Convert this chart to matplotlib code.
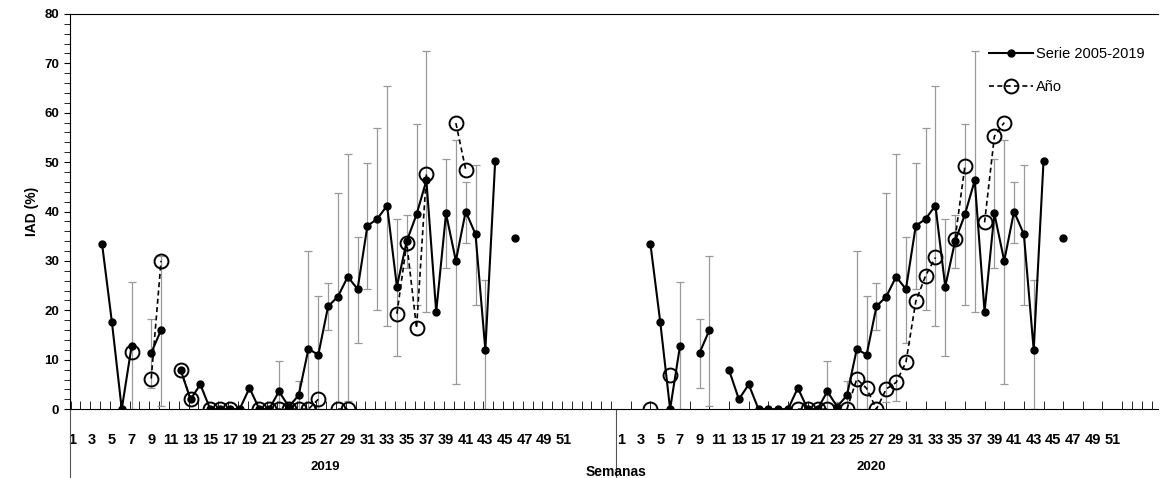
import numpy as np
import matplotlib
matplotlib.use("Agg")
import matplotlib.pyplot as plt
from matplotlib.lines import Line2D

plt.rcParams['font.family'] = ['Liberation Sans', 'DejaVu Sans']
N = np.nan
weeks = list(range(1, 53))
years = ["2019", "2020"]
serie = [N, N, N, 33.4, 17.6, 0, 12.7, N, 11.4, 16, N, 7.9, 2, 5, 0, 0, 0, 0, 4.3, 0,
         0, 3.6, 0.5, 2.8, 12.2, 11, 20.8, 22.8, 26.8, 24.3, 37.1, 38.5, 41.2, 24.8, 34, 39.4,
         46.3, 19.7, 39.6, 30, 40, 35.4, 12, 50.2, N, 34.6] + [N] * 6
err_up = {7: 25.7, 9: 18.3, 10: 30.9, 22: 9.8, 23: 1.5, 24: 5.7, 25: 32, 26: 23, 27: 25.5,
          28: 43.7, 29: 51.6, 30: 34.8, 31: 49.8, 32: 57, 33: 65.4, 34: 38.5, 35: 39.2,
          36: 57.8, 37: 72.5, 39: 50.7, 40: 54.5, 41: 46, 42: 49.5, 43: 26.2}
err_lo = {7: 0, 9: 4.3, 10: 0.7, 22: 0, 23: 0, 24: 0, 25: 0, 26: 0, 27: 16.1,
          28: 1.5, 29: 1.7, 30: 13.4, 31: 24.3, 32: 20, 33: 16.9, 34: 10.8, 35: 28.5,
          36: 21.1, 37: 19.7, 39: 28.6, 40: 5, 41: 33.7, 42: 21.1, 43: 0}
ano2019 = {7: 11.6, 9: 6.2, 10: 30, 12: 7.9, 13: 2.1, 15: 0, 16: 0, 17: 0, 20: 0, 21: 0,
           22: 0, 23: 0, 24: 0, 25: 0, 26: 2, 28: 0, 29: 0, 34: 19.3, 35: 33.6, 36: 16.4,
           37: 47.5, 40: 57.9, 41: 48.5}
ano2020 = {4: 0, 6: 6.9, 19: 0, 20: 0, 21: 0, 22: 0, 24: 0, 25: 6.1, 26: 4.2, 27: 0,
           28: 4.1, 29: 5.4, 30: 9.5, 31: 21.8, 32: 27, 33: 30.7, 35: 34.5, 36: 49.2,
           38: 37.8, 39: 55.2, 40: 58}

OFF = 55.8
fig = plt.figure(figsize=(11.61, 4.78), dpi=100)
ax = fig.add_axes([0.060, 0.144, 0.937, 0.827])
B = 'bold'

for b, ano in enumerate([ano2019, ano2020]):
    x = np.array(weeks) + OFF * b
    s = np.array(serie, dtype=float)
    ax.plot(x, s, color='black', lw=1.5, marker='o', ms=5, zorder=3)
    for w in err_up:
        ax.errorbar(w + OFF * b, s[w - 1], yerr=[[s[w - 1] - err_lo[w]], [err_up[w] - s[w - 1]]],
                    color='#999999', lw=0.9, capsize=3, capthick=0.9, zorder=2)
    a = np.array([ano.get(w, N) for w in weeks], dtype=float)
    ax.plot(x, a, color='black', lw=1.2, ls=(0, (3, 2)), marker='o', ms=10,
            mfc='none', mew=1.4, zorder=4)

ax.set_xlim(0.7, 111.4)
ax.set_ylim(0, 80)
ax.set_yticks(range(0, 81, 10))
ax.set_yticks(range(0, 81, 2), minor=True)
ax.set_yticklabels([str(v) for v in range(0, 81, 10)], fontweight=B, fontsize=9.5)
pos = [w + OFF * b for b in range(2) for w in weeks if w % 2 == 1]
ax.set_xticks(pos)
ax.set_xticklabels([str(w) for b in range(2) for w in weeks if w % 2 == 1], fontweight=B, fontsize=10.5)
ax.set_xticks(np.arange(1, 112) - 0.2, minor=True)
ax.tick_params(axis='x', which='both', direction='in', length=6, pad=17)
ax.tick_params(axis='x', which='major', length=0)
ax.tick_params(axis='y', which='both', direction='out', length=4)
ax.spines['right'].set_visible(False)
ax.set_ylabel('IAD (%)', fontweight=B, fontsize=10)
for sx in [0.7, 56.3]:
    ax.plot([sx, sx], [0, -17], color='#555555', lw=0.8, clip_on=False)
ax.text(26.7, -11.7, '2019', ha='center', va='center', fontweight=B, fontsize=9.5)
ax.text(82.3, -11.7, '2020', ha='center', va='center', fontweight=B, fontsize=9.5)
ax.text(56.3, -12.7, 'Semanas', ha='center', va='center', fontweight=B, fontsize=10)

h = [Line2D([], [], color='black', lw=1.5, marker='o', ms=5),
     Line2D([], [], color='black', lw=1.2, ls=(0, (3, 2)), marker='o', ms=10, mfc='none', mew=1.4)]
ax.legend(h, ['Serie 2005-2019', 'Año'], loc='upper right', bbox_to_anchor=(1.0, 0.95),
          frameon=False, fontsize=10.5, labelspacing=1.3, handlelength=3, handletextpad=0.2)
fig.savefig('out.png', dpi=100)
